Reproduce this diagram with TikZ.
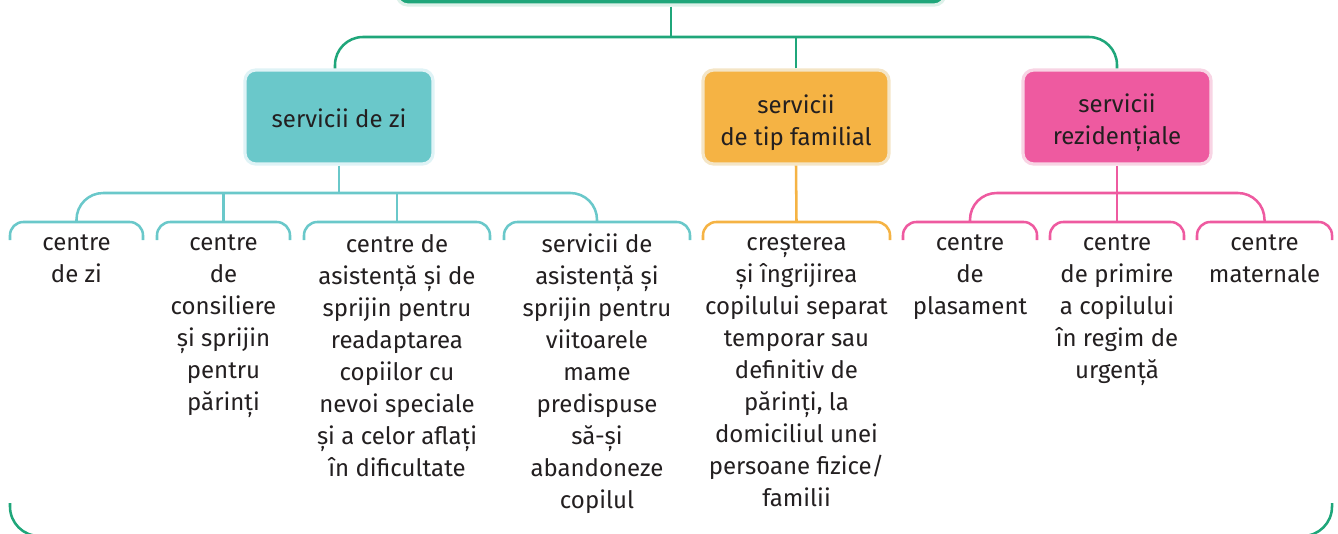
\documentclass[tikz,border=0pt]{standalone}
\usepackage{fontspec}
\setmainfont{Fira Sans}
\definecolor{gcol}{HTML}{1FA67A}
\definecolor{ghalo}{HTML}{DDF1E9}
\definecolor{tcol}{HTML}{6AC8CA}
\definecolor{thalo}{HTML}{DFF3F6}
\definecolor{ocol}{HTML}{F5B344}
\definecolor{ohalo}{HTML}{F4E5C6}
\definecolor{pcol}{HTML}{EE5AA0}
\definecolor{phalo}{HTML}{F8D4E4}
\definecolor{txt}{HTML}{231F20}
\begin{document}
\begin{tikzpicture}[x=0.75pt,y=-0.75pt,
  catbox/.style={rounded corners=8pt, line width=2.4pt, minimum width=141pt,
    minimum height=70.5pt, inner sep=0pt},
  boxtext/.style={align=center, inner sep=0pt, text=txt,
    font=\fontsize{18}{24}\selectfont},
  leaf/.style={anchor=north, align=center, inner sep=0pt, text=txt,
    font=\fontsize{18}{24}\selectfont, execute at begin node={\rule{0pt}{17pt}}},
  gline/.style={draw=gcol, line width=1.9pt},
  tline/.style={draw=tcol, line width=1.9pt},
  oline/.style={draw=ocol, line width=1.9pt},
  pline/.style={draw=pcol, line width=1.9pt},
  brk/.style={rounded corners=10pt}]
\useasboundingbox (0,0) rectangle (1338,533);
\begin{scope}
\clip (0,0) rectangle (1338,533);
% top box
\node[rounded corners=8pt, fill=gcol, draw=ghalo, line width=2.4pt,
  minimum width=411pt, minimum height=45pt, inner sep=0pt] (top) at (671,-25) {};
% category boxes
\node[catbox, fill=tcol, draw=thalo] (b1) at (339,117) {};
\node[boxtext] (b1t) at ([yshift=-1pt]b1.center) {servicii de zi};
\node[catbox, fill=ocol, draw=ohalo, minimum width=139.5pt] (b2) at (796,117) {};
\node[boxtext] (b2t) at ([yshift=-4.5pt]b2.center) {servicii\\de tip familial};
\node[catbox, fill=pcol, draw=phalo] (b3) at (1117,117) {};
\node[boxtext] (b3t) at ([yshift=-4.5pt]b3.center) {servicii\\rezidențiale};
% coordinates
\coordinate (h0) at (0,37);
\coordinate (h1) at (0,193);
\coordinate (t1) at (76.5,222);
\coordinate (t2) at (223.5,222);
\coordinate (t3) at (397,222);
\coordinate (t4) at (597,222);
\coordinate (t5) at (796.5,222);
\coordinate (t6) at (970,222);
\coordinate (t7) at (1117,222);
\coordinate (t8) at (1264.5,222);
% green connectors
\draw[gline] (top.south) -- (top.south |- h0);
\draw[gline, rounded corners=21pt] ([xshift=-3pt]b1.north) |- (b3.north |- h0) -- (b3.north);
\draw[gline] (b2.north) -- (b2.north |- h0);
% teal connectors
\draw[tline] (b1.south) -- (b1.south |- h1);
\draw[tline, rounded corners=20pt] (t1) |- (t4 |- h1) -- (t4);
\draw[tline] (t2 |- h1) -- (t2);
\draw[tline] (t3 |- h1) -- (t3);
% orange
\draw[oline] (b2.south) -- (t5);
% pink
\draw[pline, rounded corners=20pt] (t6) |- (t8 |- h1) -- (t8);
\draw[pline] (b3.south) -- (t7);
% brackets
\draw[tline, brk] (10,240) |- (t1) -| (143,240);
\draw[tline, brk] (157,240) |- (t2) -| (290,240);
\draw[tline, brk] (304,240) |- (t3) -| (490,240);
\draw[tline, brk] (504,240) |- (t4) -| (690,240);
\draw[oline, brk] (703,240) |- (t5) -| (890,240);
\draw[pline, brk] (903,240) |- (t6) -| (1037,240);
\draw[pline, brk] (1050,240) |- (t7) -| (1184,240);
\draw[pline, brk] (1197,240) |- (t8) -| (1332,240);
% leaf texts
\node[leaf] (c1) at (76.5,234) {centre\\de zi};
\node[leaf] (c2) at (223.5,234) {centre\\de\\consiliere\\și sprijin\\pentru\\părinți};
\node[leaf] (c3) at (397,234) {centre de\\asistență și de\\sprijin pentru\\readaptarea\\copiilor cu\\nevoi speciale\\și a celor aflați\\în dificultate};
\node[leaf] (c4) at (597,234) {servicii de\\asistență și\\sprijin pentru\\viitoarele\\mame\\predispuse\\să-și\\abandoneze\\copilul};
\node[leaf] (c5) at (796.5,234) {creșterea\\și îngrijirea\\copilului separat\\temporar sau\\definitiv de\\părinți, la\\domiciliul unei\\persoane fizice/\\familii};
\node[leaf] (c6) at (970,234) {centre\\de\\plasament};
\node[leaf] (c7) at (1117,234) {centre\\de primire\\a copilului\\în regim de\\urgență};
\node[leaf] (c8) at (1264.5,234) {centre\\maternale};
% bottom enclosing bracket
\draw[gline, rounded corners=22pt] (10,503) |- (1332,536) -- (1332,503);
\end{scope}
\end{tikzpicture}
\end{document}
